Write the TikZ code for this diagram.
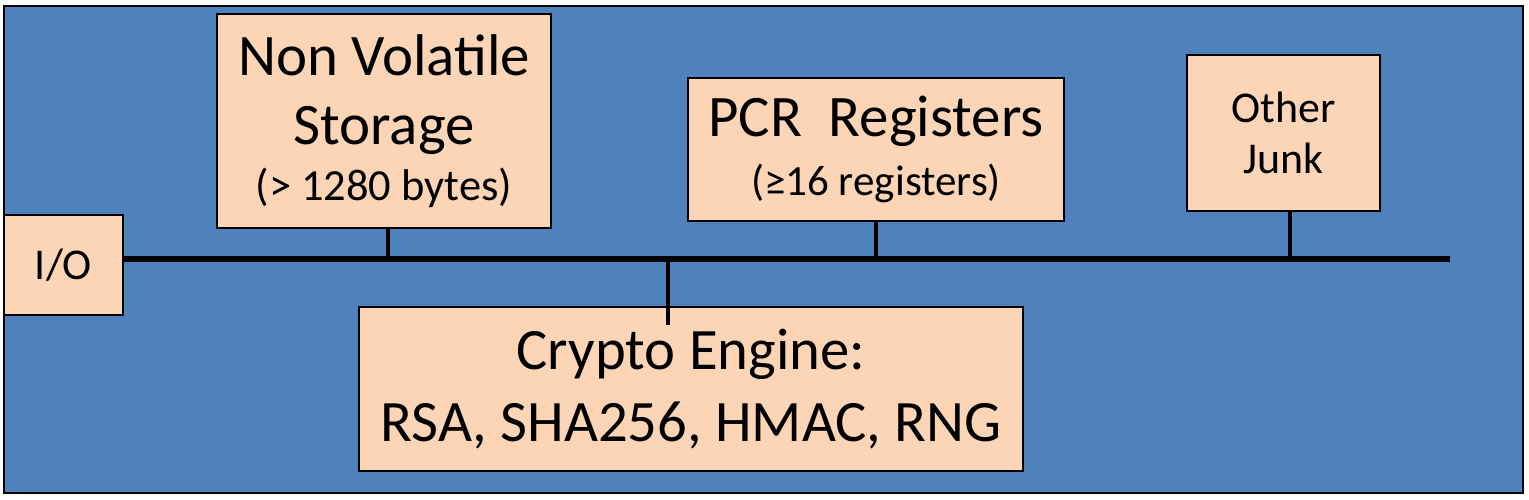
\documentclass[tikz,border=0pt]{standalone}
\usepackage{fontspec}
\setmainfont{Carlito}
\usetikzlibrary{positioning}
\definecolor{chipblue}{HTML}{4F81BD}
\definecolor{unitfill}{HTML}{FBD5B5}

\begin{document}
\begin{tikzpicture}[x=0.02cm,y=-0.02cm,
    unit/.style={draw=black, line width=1.2pt, fill=unitfill, inner sep=0pt, align=center},
    bus/.style={line width=3.4pt},
    tap/.style={line width=2.3pt}]
    \useasboundingbox (0,0) rectangle (1529,500);
    \node[draw=black, line width=1.2pt, fill=chipblue, minimum width=1519*0.02cm, minimum height=487*0.02cm, inner sep=0pt] (chip) at (763.5,249.5) {};
    % units
    \node[unit, font=\fontsize{25}{30}\selectfont, minimum width=119*0.02cm, minimum height=100*0.02cm] (io) at (63.5,265) {I/O};
    \node[unit, font=\fontsize{33.5}{39.3}\selectfont, minimum width=334*0.02cm, minimum height=214*0.02cm] (nvs) at (384,121) {Non Volatile\\ Storage\\[-7.4pt] \fontsize{25.3}{31.9}\selectfont (> 1280 bytes)};
    \node[unit, font=\fontsize{33.5}{33.6}\selectfont, minimum width=376*0.02cm, minimum height=143*0.02cm] (pcr) at (876,149.5) {PCR~~Registers\\ \fontsize{24.5}{33.6}\selectfont (≥16 registers)};
    \node[unit, font=\fontsize{25}{29}\selectfont, minimum width=193*0.02cm, minimum height=156*0.02cm] (junk) at (1283.5,133) {Other\\ Junk};
    \node[unit, font=\fontsize{33.4}{41}\selectfont, minimum width=664*0.02cm, minimum height=164*0.02cm] (crypto) at (691,389) {Crypto Engine:\\ RSA, SHA256, HMAC, RNG};
    % bus and taps
    \coordinate (busend) at (1450,259);
    \coordinate (tnvs) at (388,259);
    \coordinate (tcrypto) at (668,259);
    \coordinate (tpcr) at (876,259);
    \coordinate (tjunk) at (1290,259);
    \draw[bus] (io.east |- busend) -- (busend);
    \draw[tap] (tnvs) -- (tnvs |- nvs.south);
    \draw[tap] (tpcr) -- (tpcr |- pcr.south);
    \draw[tap] (tjunk) -- (tjunk |- junk.south);
    \draw[tap] (tcrypto) -- ([yshift=-10.8pt]tcrypto |- crypto.north);
\end{tikzpicture}
\end{document}
